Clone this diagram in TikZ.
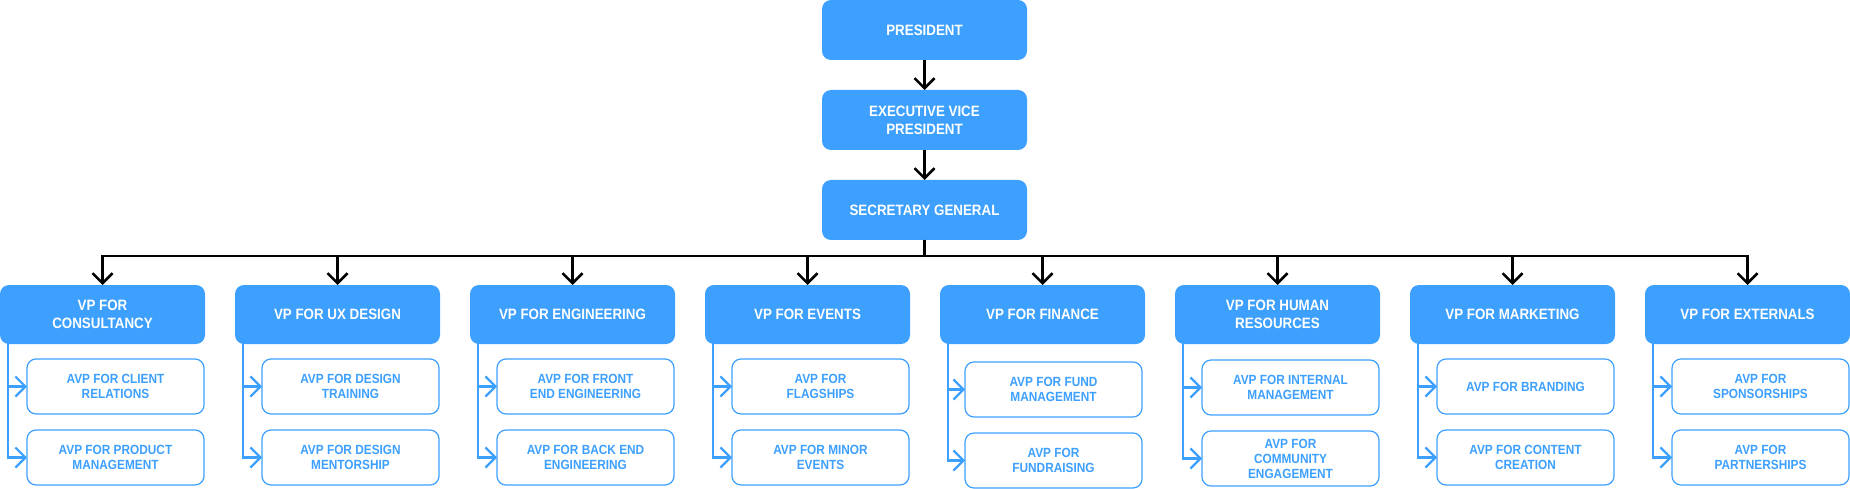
\documentclass[tikz,border=0pt]{standalone}
\usepackage{fontspec}
\setmainfont{Liberation Sans}[FakeStretch=0.89]
\usetikzlibrary{positioning,arrows.meta,calc}
\definecolor{orgblue}{HTML}{3DA0FF}
\tikzset{
    every node/.style={font=\bfseries\fontsize{15}{18}\selectfont},
    topbox/.style={rectangle,rounded corners=9pt,fill=orgblue,text=white,minimum width=205pt,minimum height=60pt,inner sep=0pt,outer sep=0pt,align=center},
    vpbox/.style={topbox,minimum height=59pt},
    avpbox/.style={rectangle,rounded corners=9pt,draw=orgblue,line width=1.2pt,fill=white,text=orgblue,minimum width=177pt,minimum height=55pt,inner sep=0pt,outer sep=0pt,align=center,font=\bfseries\fontsize{13.3}{15}\selectfont},
    link/.style={draw=black,line width=2.5pt,-{Straight Barb[length=10pt,width=20pt]}},
    branch/.style={draw=orgblue,line width=2.2pt,-{Straight Barb[length=10pt,width=20pt]}}
}
\begin{document}
\begin{tikzpicture}[x=1pt,y=1pt]
\useasboundingbox (0,0) rectangle (1850,-489);
% top of the chart
\node[topbox] (pres) at (924.5,-30) {PRESIDENT};
\node[topbox,below=30pt of pres] (evp) {EXECUTIVE VICE\\PRESIDENT};
\node[topbox,below=30pt of evp] (sg) {SECRETARY GENERAL};
% vice presidents
\node[vpbox] (cons) at (102.5,-314.5) {VP FOR\\CONSULTANCY};
\node[vpbox,right=30pt of cons] (ux) {VP FOR UX DESIGN};
\node[vpbox,right=30pt of ux] (eng) {VP FOR ENGINEERING};
\node[vpbox,right=30pt of eng] (events) {VP FOR EVENTS};
\node[vpbox,right=30pt of events] (fin) {VP FOR FINANCE};
\node[vpbox,right=30pt of fin] (hr) {VP FOR HUMAN\\RESOURCES};
\node[vpbox,right=30pt of hr] (mkt) {VP FOR MARKETING};
\node[vpbox,right=30pt of mkt] (ext) {VP FOR EXTERNALS};
% assistant vice presidents
\node[avpbox,below=15pt of cons,xshift=13pt] (client) {AVP FOR CLIENT\\RELATIONS};
\node[avpbox,below=16pt of client] (product) {AVP FOR PRODUCT\\MANAGEMENT};
\node[avpbox,below=15pt of ux,xshift=13pt] (training) {AVP FOR DESIGN\\TRAINING};
\node[avpbox,below=16pt of training] (mentor) {AVP FOR DESIGN\\MENTORSHIP};
\node[avpbox,below=15pt of eng,xshift=13pt] (front) {AVP FOR FRONT\\END ENGINEERING};
\node[avpbox,below=16pt of front] (back) {AVP FOR BACK END\\ENGINEERING};
\node[avpbox,below=15pt of events,xshift=13pt] (flag) {AVP FOR\\FLAGSHIPS};
\node[avpbox,below=16pt of flag] (minor) {AVP FOR MINOR\\EVENTS};
\node[avpbox,below=18pt of fin,xshift=11pt] (fund) {AVP FOR FUND\\MANAGEMENT};
\node[avpbox,below=16pt of fund] (raise) {AVP FOR\\FUNDRAISING};
\node[avpbox,below=16pt of hr,xshift=13pt] (internal) {AVP FOR INTERNAL\\MANAGEMENT};
\node[avpbox,below=16pt of internal] (community) {AVP FOR\\COMMUNITY\\ENGAGEMENT};
\node[avpbox,below=15pt of mkt,xshift=13pt] (brand) {AVP FOR BRANDING};
\node[avpbox,below=16pt of brand] (content) {AVP FOR CONTENT\\CREATION};
\node[avpbox,below=15pt of ext,xshift=13pt] (sponsor) {AVP FOR\\SPONSORSHIPS};
\node[avpbox,below=16pt of sponsor] (partner) {AVP FOR\\PARTNERSHIPS};
% connectors
\draw[link] (pres) -- (evp);
\draw[link] (evp) -- (sg);
\coordinate[below=16pt of sg] (bus);
\foreach \vp in {cons,ux,eng,events,fin,hr,mkt,ext}
    \draw[link] (sg) -- (bus) -| (\vp);
\foreach \vp/\first/\second in {cons/client/product,ux/training/mentor,eng/front/back,events/flag/minor,fin/fund/raise,hr/internal/community,mkt/brand/content,ext/sponsor/partner}{
    \draw[branch] ([xshift=8pt,yshift=2pt]\vp.south west) |- (\first);
    \draw[branch] ([xshift=8pt,yshift=2pt]\vp.south west) |- (\second);
}
\end{tikzpicture}
\end{document}
